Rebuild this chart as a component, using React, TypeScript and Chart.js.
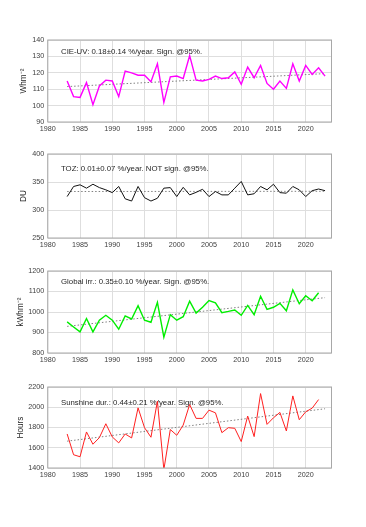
import React, { useEffect, useRef } from "react";
import { Chart, registerables } from "chart.js";

Chart.register(...registerables);

const yearsLong = [1983, 1984, 1985, 1986, 1987, 1988, 1989, 1990, 1991, 1992, 1993, 1994, 1995, 1996, 1997, 1998, 1999, 2000, 2001, 2002, 2003, 2004, 2005, 2006, 2007, 2008, 2009, 2010, 2011, 2012, 2013, 2014, 2015, 2016, 2017, 2018, 2019, 2020, 2021, 2022, 2023];
const yearsShort = [1983, 1984, 1985, 1986, 1987, 1988, 1989, 1990, 1991, 1992, 1993, 1994, 1995, 1996, 1997, 1998, 1999, 2000, 2001, 2002, 2003, 2004, 2005, 2006, 2007, 2008, 2009, 2010, 2011, 2012, 2013, 2014, 2015, 2016, 2017, 2018, 2019, 2020, 2021, 2022];

const uvValues = [115, 105.5, 105, 114, 100.5, 112, 115.5, 115, 105.5, 121, 120, 118.5, 118.5, 114.5, 125.5, 102, 117.5, 118, 116.5, 130.5, 115.5, 115, 116, 118, 116.5, 117, 120.5, 113, 123.5, 117, 124.5, 113.5, 110, 115, 110.5, 125.5, 115, 124.5, 119, 123, 118];
const tozValues = [324, 342, 345, 339, 346, 340, 336, 331, 342, 320, 316, 342, 322, 316, 321, 339, 340, 324, 340.5, 327, 331.5, 337, 324, 333, 327, 327, 339, 351, 327, 329, 342, 336, 346, 331, 330, 342, 336, 324, 334.5, 337.5, 334.5];
const globalValues = [952, 927, 903, 968, 903, 960, 984, 960, 916, 981, 966, 1031, 960, 950, 1047, 877, 987, 960, 977, 1053, 995, 1023, 1056, 1045, 997, 1003, 1010, 984, 1032, 987, 1077, 1013, 1023, 1042, 1006, 1108, 1040, 1079, 1055, 1094];
const sunshineValues = [1736, 1531, 1511, 1756, 1635, 1700, 1837, 1707, 1648, 1736, 1697, 1994, 1798, 1704, 2060, 1385, 1780, 1723, 1824, 2027, 1890, 1890, 1971, 1945, 1749, 1798, 1792, 1661, 1913, 1710, 2135, 1831, 1896, 1949, 1766, 2112, 1877, 1955, 1991, 2076];

const trendYears = [1983, 2023];
const uvTrend = [111.6, 119.5];
const tozTrend = [333, 333.4];
const globalTrend = [930, 1070];
const sunshineTrend = [1665, 1985];

const xTicks = [1980, 1985, 1990, 1995, 2000, 2005, 2010, 2015, 2020];
const uvTicks = [90, 100, 110, 120, 130, 140];
const tozTicks = [250, 300, 350, 400];
const globalTicks = [800, 900, 1000, 1100, 1200];
const sunshineTicks = [1400, 1600, 1800, 2000, 2200];

const uvLabel = "CIE-UV: 0.18±0.14 %/year. Sign. @95%.";
const tozLabel = "TOZ: 0.01±0.07 %/year. NOT sign. @95%.";
const globalLabel = "Global irr.: 0.35±0.10 %/year. Sign. @95%.";
const sunshineLabel = "Sunshine dur.: 0.44±0.21 %/year. Sign. @95%.";

const FONT = "'Liberation Sans', Arial, Helvetica, sans-serif";

const boxPlugin = {
  id: "boxAnno",
  beforeDatasetsDraw(chart: any, _args: any, opts: any) {
    const { ctx, chartArea: a } = chart;
    ctx.save();
    ctx.font = `${opts.fontSize}px ${FONT}`;
    ctx.fillStyle = "#262626";
    ctx.textBaseline = "middle";
    ctx.textAlign = "left";
    ctx.fillText(opts.text, a.left + opts.dx, a.top + opts.dy);
    ctx.restore();
  },
  afterDraw(chart: any) {
    const { ctx, chartArea: a } = chart;
    ctx.save();
    ctx.strokeStyle = "#a8a8a8";
    ctx.lineWidth = 1;
    ctx.strokeRect(a.left, a.top, a.right - a.left, a.bottom - a.top);
    ctx.restore();
  },
};

type PanelProps = {
  years: number[];
  values: number[];
  trend: number[];
  yTicks: number[];
  color: string;
  width: number;
  label: string;
  title: string;
  plotTop: number;
  plotBottom: number;
  titleX: number;
  textDy: number;
};

const PLOT_LEFT = 47.8;
const PLOT_RIGHT = 331.5;
const PAD_TOP = 12;
const X_AXIS_H = 22;

function Panel(p: PanelProps) {
  const ref = useRef<HTMLCanvasElement | null>(null);
  const h = p.plotBottom - p.plotTop + PAD_TOP + X_AXIS_H;
  useEffect(() => {
    if (!ref.current) return;
    const titleSize = 8.2;
    const chart = new Chart(ref.current, {
      type: "line",
      data: {
        datasets: [
          {
            data: p.years.map((y, i) => ({ x: y, y: p.values[i] })),
            borderColor: p.color,
            borderWidth: p.width,
            pointRadius: 0,
            tension: 0,
            fill: false,
          },
          {
            data: trendYears.map((y, i) => ({ x: y, y: p.trend[i] })),
            borderColor: "#808080",
            borderWidth: 1,
            borderDash: [1.5, 2],
            pointRadius: 0,
            fill: false,
          },
        ],
      },
      options: {
        animation: false,
        responsive: false,
        events: [],
        layout: { padding: { top: PAD_TOP, left: 0, right: 366 - PLOT_RIGHT, bottom: 0 } },
        plugins: {
          legend: { display: false },
          tooltip: { enabled: false },
          boxAnno: { text: p.label, dx: 13.2, dy: p.textDy, fontSize: 7.8 },
        } as any,
        scales: {
          x: {
            type: "linear",
            min: 1980,
            max: 2024,
            afterBuildTicks: (s: any) => {
              s.ticks = xTicks.map((v) => ({ value: v }));
            },
            afterFit: (s: any) => {
              s.height = X_AXIS_H;
            },
            grid: { color: "#dedede", drawTicks: false, lineWidth: 1 },
            border: { display: false },
            ticks: {
              padding: 3,
              color: "#404040",
              font: { size: 7.2, family: FONT },
              maxRotation: 0,
              autoSkip: false,
              callback: (v: any) => String(v),
            },
          },
          y: {
            type: "linear",
            min: p.yTicks[0],
            max: p.yTicks[p.yTicks.length - 1],
            afterBuildTicks: (s: any) => {
              s.ticks = p.yTicks.map((v) => ({ value: v }));
            },
            afterFit: (s: any) => {
              s.width = PLOT_LEFT;
            },
            grid: { color: "#dedede", drawTicks: false, lineWidth: 1 },
            border: { display: false },
            ticks: {
              padding: 3.5,
              color: "#404040",
              font: { size: 7.2, family: FONT },
              autoSkip: false,
              callback: (v: any) => String(v),
            },
            title: {
              display: true,
              text: p.title,
              color: "#262626",
              font: { size: titleSize, family: FONT },
              padding: { top: p.titleX - (titleSize * 1.2) / 2, bottom: 0 },
            },
          },
        },
      },
      plugins: [boxPlugin as any],
    });
    return () => chart.destroy();
  }, []);
  return (
    <canvas
      ref={ref}
      width={366}
      height={h}
      style={{ position: "absolute", left: 0, top: p.plotTop - PAD_TOP, width: 366, height: h }}
    />
  );
}

export default function App() {
  return (
    <div style={{ position: "absolute", left: 0, top: 0, width: 366, height: 527, background: "#fff" }}>
      <Panel years={yearsLong} values={uvValues} trend={uvTrend} yTicks={uvTicks} color="#ff00ff" width={1.4}
        label={uvLabel} title="Whm⁻²" plotTop={39.7} plotBottom={122.5} titleX={24} textDy={12} />
      <Panel years={yearsLong} values={tozValues} trend={tozTrend} yTicks={tozTicks} color="#111111" width={1}
        label={tozLabel} title="DU" plotTop={154.3} plotBottom={238.3} titleX={23.3} textDy={14.4} />
      <Panel years={yearsShort} values={globalValues} trend={globalTrend} yTicks={globalTicks} color="#00ee00" width={1.4}
        label={globalLabel} title="kWhm⁻²" plotTop={270.7} plotBottom={353.3} titleX={21} textDy={11} />
      <Panel years={yearsShort} values={sunshineValues} trend={sunshineTrend} yTicks={sunshineTicks} color="#ff2020" width={1}
        label={sunshineLabel} title="Hours" plotTop={386.7} plotBottom={468.3} titleX={20.7} textDy={15.6} />
    </div>
  );
}
